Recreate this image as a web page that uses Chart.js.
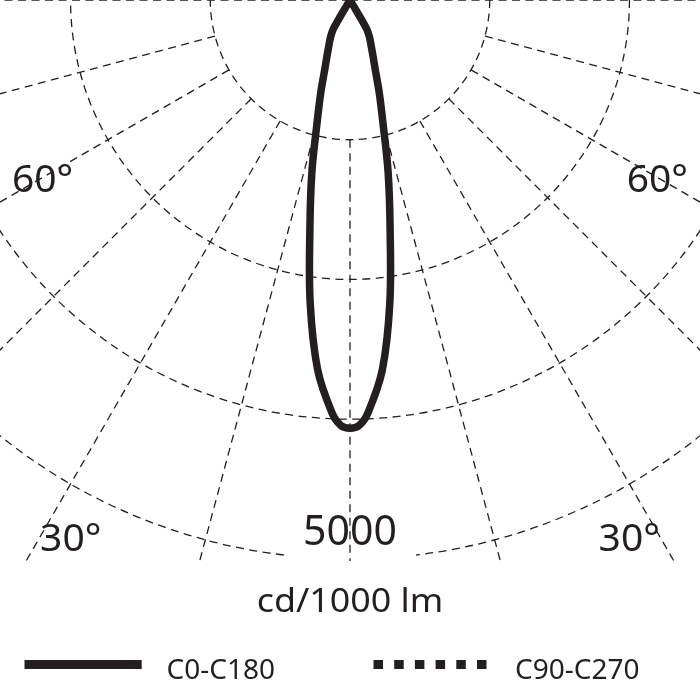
<!DOCTYPE html>
<html>
<head>
<meta charset="utf-8">
<script src="https://cdn.jsdelivr.net/npm/chart.js@4.4.1/dist/chart.umd.min.js"></script>
<style>
  html, body { margin: 0; padding: 0; background: #ffffff; overflow: hidden; }
  #wrap { width: 700px; height: 700px; }
</style>
</head>
<body>
<div id="wrap"><canvas id="c" width="700" height="700"></canvas></div>
<script>
// ---- data ----
const gammaAngles = [0, 1.25, 2.5, 5, 7.5, 10, 12.5, 15, 17.5, 20, 22.5, 25, 27.5, 30, 32.5, 35, 37.5, 40, 45, 50, 55, 60, 65, 70, 75, 80, 85, 90];
const intensityC0C180 = [3830, 3805, 3695, 3320, 2730, 2065, 1575, 1140, 870, 660, 535, 445, 380, 295, 0, 0, 0, 0, 0, 0, 0, 0, 0, 0, 0, 0, 0, 0];
const intensityC90C270 = [3830, 3805, 3695, 3320, 2730, 2065, 1575, 1140, 870, 660, 535, 445, 380, 295, 0, 0, 0, 0, 0, 0, 0, 0, 0, 0, 0, 0, 0, 0];
const ringValues = [1250, 2500, 3750, 5000];
const spokeAngles = [0, 15, 30, 45, 60, 75, 90];
const ringLabel = '5000';
const unitLabel = 'cd/1000 lm';
const angleLabels = ['60°', '30°'];
const seriesNames = ['C0-C180', 'C90-C270'];

// ---- helpers ----
function polarPoints(angles, values) {
  const pts = [];
  const push = (a, v) => {
    const r = a * Math.PI / 180;
    const p = { x: v * Math.sin(r), y: -v * Math.cos(r) };
    const last = pts[pts.length - 1];
    if (last && Math.abs(last.x - p.x) < 1e-6 && Math.abs(last.y - p.y) < 1e-6) return;
    pts.push(p);
  };
  for (let i = angles.length - 1; i >= 0; i--) push(-angles[i], values[i]);
  for (let i = 1; i < angles.length; i++) push(angles[i], values[i]);
  return pts;
}

const INK = '#231f20';
const FONT = '"Noto Sans", "Open Sans", sans-serif';

const polarGrid = {
  id: 'polarGrid',
  beforeDatasetsDraw(chart) {
    const { ctx, chartArea: a, scales: { x, y } } = chart;
    const cx = x.getPixelForValue(0), cy = y.getPixelForValue(0);
    const k = (x.getPixelForValue(1000) - cx) / 1000;
    ctx.save();
    ctx.beginPath();
    ctx.rect(a.left, a.top, a.right - a.left, a.bottom - a.top);
    ctx.clip();
    ctx.strokeStyle = INK;
    ctx.lineWidth = 1.3;
    ctx.setLineDash([8, 5.5]);
    // rings
    ringValues.forEach((v, i) => {
      const r = v * k;
      ctx.beginPath();
      if (i === ringValues.length - 1) {
        const g = 6.8 * Math.PI / 180;
        ctx.arc(cx, cy, r, Math.PI / 2 + g, Math.PI / 2 - g + 2 * Math.PI);
      } else {
        ctx.arc(cx, cy, r, 0, 2 * Math.PI);
      }
      ctx.stroke();
    });
    // spokes
    const r0 = ringValues[0] * k;
    const r1 = 2000;
    spokeAngles.forEach(deg => {
      [-1, 1].forEach(s => {
        if (deg === 0 && s < 0) return;
        const t = s * deg * Math.PI / 180;
        const start = deg === 90 ? 0 : r0;
        ctx.beginPath();
        ctx.moveTo(cx + start * Math.sin(t), cy + start * Math.cos(t));
        ctx.lineTo(cx + r1 * Math.sin(t), cy + r1 * Math.cos(t));
        ctx.stroke();
      });
    });
    ctx.restore();
  },
  afterDraw(chart) {
    const { ctx, scales: { x, y } } = chart;
    const cx = x.getPixelForValue(0), cy = y.getPixelForValue(0);
    const k = (x.getPixelForValue(1000) - cx) / 1000;
    ctx.save();
    ctx.fillStyle = INK;
    ctx.textAlign = 'center';
    ctx.textBaseline = 'alphabetic';
    // angle labels
    const labelPos = [
      { text: angleLabels[0], deg: 60, r: 3175 },
      { text: angleLabels[1], deg: 27.5, r: 5410 }
    ];
    ctx.font = '39px ' + FONT;
    labelPos.forEach(l => {
      [-1, 1].forEach(s => {
        const t = s * l.deg * Math.PI / 180;
        const px = cx + l.r * k * Math.sin(t);
        const py = cy + l.r * k * Math.cos(t);
        ctx.fillText(l.text, px, py + 14.5);
      });
    });
    // ring value label
    ctx.font = '41px ' + FONT;
    ctx.fillText(ringLabel, cx, cy + ringValues[3] * k - 14);
    // unit label (slightly wide face, as in the reference)
    ctx.font = '32px ' + FONT;
    ctx.save();
    ctx.translate(cx, cy + ringValues[3] * k + 53);
    ctx.scale(1.12, 1);
    ctx.fillText(unitLabel, 0, 0);
    ctx.restore();
    // legend
    const ds = chart.data.datasets;
    const items = [
      { x0: 24.5, x1: 141.7, tx: 166.5, d: ds[0] },
      { x0: 373.5, x1: 487.5, tx: 515, d: ds[1] }
    ];
    ctx.textAlign = 'left';
    ctx.font = '28px ' + FONT;
    items.forEach(it => {
      ctx.save();
      ctx.strokeStyle = it.d.borderColor;
      ctx.lineWidth = 9;
      ctx.lineCap = 'butt';
      ctx.setLineDash(it.d.borderDash && it.d.borderDash.length ? [9.5, 11.2] : []);
      ctx.beginPath();
      ctx.moveTo(it.x0, 664.5);
      ctx.lineTo(it.x1, 664.5);
      ctx.stroke();
      ctx.restore();
      ctx.fillText(it.d.label, it.tx, 679);
    });
    ctx.restore();
  }
};

new Chart(document.getElementById('c'), {
  type: 'scatter',
  data: {
    datasets: [
      {
        label: seriesNames[0],
        data: polarPoints(gammaAngles, intensityC0C180),
        showLine: true,
        borderColor: INK,
        borderWidth: 7.5,
        pointRadius: 0,
        tension: 0.35,
        borderJoinStyle: 'round',
        clip: 0
      },
      {
        label: seriesNames[1],
        data: polarPoints(gammaAngles, intensityC90C270),
        showLine: true,
        borderColor: INK,
        borderWidth: 6,
        borderDash: [8, 6],
        pointRadius: 0,
        tension: 0.35,
        clip: 0
      }
    ]
  },
  options: {
    responsive: false,
    devicePixelRatio: 1,
    animation: false,
    layout: { padding: { left: 0, right: 0, top: 0, bottom: 139 } },
    plugins: { legend: { display: false }, tooltip: { enabled: false } },
    scales: {
      x: { type: 'linear', min: -3131, max: 3131, display: false },
      y: { type: 'linear', min: -5018, max: 0, display: false }
    }
  },
  plugins: [polarGrid]
});
</script>
</body>
</html>
